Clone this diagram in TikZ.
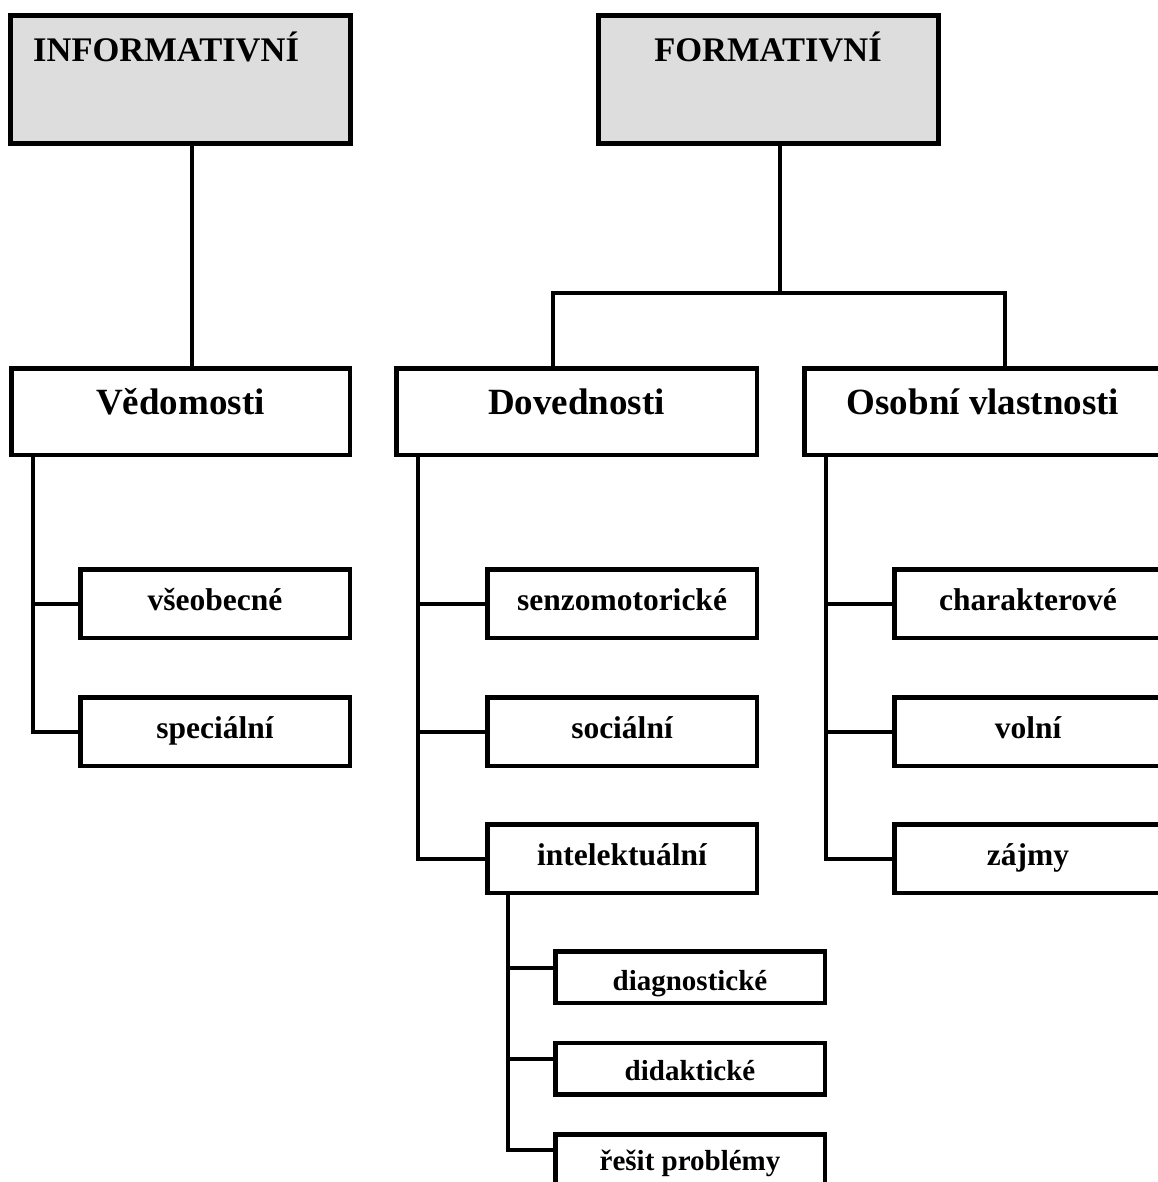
\documentclass[tikz,border=0pt]{standalone}
\usepackage{fontspec}
\setmainfont{Liberation Serif}
\definecolor{boxgray}{RGB}{221,221,221}
\begin{document}
\begin{tikzpicture}[x=1pt,y=-1pt,
  topbox/.style={draw=black, line width=5pt, fill=boxgray, inner sep=0pt, minimum width=340pt, minimum height=128pt},
  midbox/.style={draw=black, line width=4.5pt, inner sep=0pt, minimum height=86.5pt},
  subbox/.style={draw=black, line width=4.5pt, inner sep=0pt, minimum width=269.5pt, minimum height=68.5pt},
  smallbox/.style={draw=black, line width=4.5pt, inner sep=0pt, minimum width=269.5pt, minimum height=51.5pt},
  conn/.style={draw=black, line width=4pt},
  toptxt/.style={inner sep=0pt, font=\bfseries\fontsize{34.5}{38}\selectfont},
  midtxt/.style={inner sep=0pt, anchor=base, font=\bfseries\fontsize{37}{40}\selectfont},
  subtxt/.style={inner sep=0pt, anchor=base, font=\bfseries\fontsize{31.5}{35}\selectfont},
  smalltxt/.style={inner sep=0pt, anchor=base, font=\bfseries\fontsize{29}{32}\selectfont}]
\useasboundingbox (0,0) rectangle (1157,1182);

% top boxes
\node[topbox] (inf) at (180.5,79.5) {};
\node[topbox] (form) at (768.5,79.5) {};
\node[toptxt, anchor=base west] (infT) at (33,62) {INFORMATIVNÍ};
\node[toptxt, anchor=base] (formT) at (768,62) {FORMATIVNÍ};

% middle boxes
\node[midbox, minimum width=338.5pt] (ved) at (180.5,411.5) {};
\node[midbox, minimum width=360.5pt] (dov) at (576.5,411.5) {};
\node[midbox, minimum width=357.5pt] (oso) at (983,411.5) {};
\node[midtxt] (vedT) at (180.5,414) {Vědomosti};
\node[midtxt] (dovT) at (576.5,414) {Dovednosti};
\node[midtxt] (osoT) at (983,414) {Osobní vlastnosti};

% sub boxes
\node[subbox] (vseo) at (215,603.5) {};
\node[subbox] (spec) at (215,731.5) {};
\node[subbox] (senz) at (622,603.5) {};
\node[subbox] (soc) at (622,731.5) {};
\node[subbox] (int) at (622,858.5) {};
\node[subbox, minimum width=267.5pt] (char) at (1028,603.5) {};
\node[subbox, minimum width=267.5pt] (voln) at (1028,731.5) {};
\node[subbox, minimum width=267.5pt] (zajm) at (1028,858.5) {};

\node[subtxt] (vseoT) at (215,610) {všeobecné};
\node[subtxt] (specT) at (215,738) {speciální};
\node[subtxt] (senzT) at (622,610) {senzomotorické};
\node[subtxt] (socT) at (622,738) {sociální};
\node[subtxt] (intT) at (622,865) {intelektuální};
\node[subtxt] (charT) at (1028,610) {charakterové};
\node[subtxt] (volnT) at (1028,738) {volní};
\node[subtxt] (zajmT) at (1028,865) {zájmy};

% intellectual sub boxes
\node[smallbox] (diag) at (690,977) {};
\node[smallbox] (dida) at (690,1068.5) {};
\node[smallbox] (resi) at (690,1160) {};
\node[smalltxt] (diagT) at (690,990) {diagnostické};
\node[smalltxt] (didaT) at (690,1080) {didaktické};
\node[smalltxt] (resiT) at (690,1170) {řešit problémy};

% connectors top
\draw[conn] ([xshift=11.5pt]inf.south) -- ([xshift=11.5pt]inf.south |- ved.north);
\coordinate (fork) at (780,293);
\draw[conn] (form.south -| fork) -- (fork);
\draw[conn, line join=miter] ([xshift=-23.5pt]dov.north) |- (fork);
\draw[conn, line join=miter] ([xshift=22pt]oso.north) |- (fork);

% spines
\coordinate (vsp) at ([xshift=24pt]ved.south west);
\draw[conn, line join=miter] (vsp) |- (spec.west);
\draw[conn] (vseo.west) -- (vseo.west -| vsp);

\coordinate (dsp) at ([xshift=24pt]dov.south west);
\draw[conn, line join=miter] (dsp) |- (int.west);
\draw[conn] (senz.west) -- (senz.west -| dsp);
\draw[conn] (soc.west) -- (soc.west -| dsp);

\coordinate (osp) at ([xshift=24pt]oso.south west);
\draw[conn, line join=miter] (osp) |- (zajm.west);
\draw[conn] (char.west) -- (char.west -| osp);
\draw[conn] (voln.west) -- (voln.west -| osp);

\coordinate (isp) at ([xshift=23pt]int.south west);
\draw[conn, line join=miter] (isp) |- ([yshift=10pt]resi.west);
\draw[conn] ([yshift=9pt]diag.west) -- ([yshift=9pt]diag.west -| isp);
\draw[conn] ([yshift=9.5pt]dida.west) -- ([yshift=9.5pt]dida.west -| isp);
\end{tikzpicture}
\end{document}
